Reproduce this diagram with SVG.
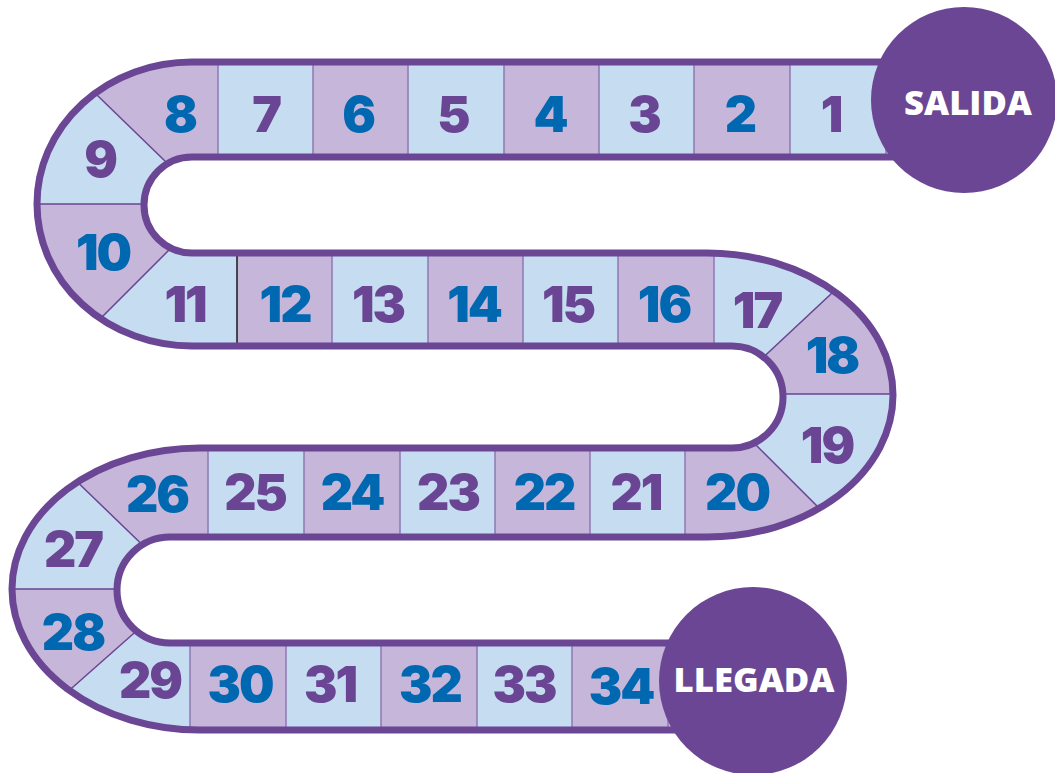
<svg xmlns="http://www.w3.org/2000/svg" width="1055" height="773" viewBox="0 0 1055 773">
<defs>
<clipPath id="band"><path d="M 900,62 L 192,62 A 155 142 0 0 0 192,346 L 732,346 A 51 51 0 0 1 732,448 L 200,448 A 188 141 0 0 0 200,730 L 700,730 L 700,643 L 170,643 A 53 53 0 0 1 170,537 L 707,537 A 186 142 0 0 0 707,253 L 192,253 A 48 48 0 0 1 192,157 L 900,157 Z"/></clipPath>
<style>
.lb{fill:#c6dcf0;clip-path:url(#band)}
.lp{fill:#c6b6d9;clip-path:url(#band)}
.n{font-family:Inter,Lato,"Liberation Sans",sans-serif;font-weight:900;font-size:50px;letter-spacing:-2px;text-anchor:middle}
.p{fill:#6a4593}
.b{fill:#0067b1}
.dv{stroke:#8e78b3;stroke-width:1.5;fill:none}
.dd{stroke:#6a4593;stroke-width:1.5;fill:none}
.border{fill:none;stroke:#6b4695;stroke-width:7;stroke-linejoin:round}
.circ{fill:#6b4695}
.lbl{font-family:"Open Sans","Liberation Sans",sans-serif;font-weight:800;font-size:33px;fill:#ffffff;text-anchor:middle}
</style>
</defs>
<rect width="1055" height="773" fill="#ffffff"/>

<g id="cells">
<g id="cell-1"><rect class="lb" x="790" y="50" width="110" height="120"/><text class="n p" x="831" y="132">1</text></g>
<g id="cell-2"><rect class="lp" x="694" y="50" width="96" height="120"/><text class="n b" x="740" y="132">2</text></g>
<g id="cell-3"><rect class="lb" x="599" y="50" width="95" height="120"/><text class="n p" x="644" y="132">3</text></g>
<g id="cell-4"><rect class="lp" x="504" y="50" width="95" height="120"/><text class="n b" x="550" y="132">4</text></g>
<g id="cell-5"><rect class="lb" x="408" y="50" width="96" height="120"/><text class="n p" x="453" y="132">5</text></g>
<g id="cell-6"><rect class="lp" x="313" y="50" width="95" height="120"/><text class="n b" x="358" y="132">6</text></g>
<g id="cell-7"><rect class="lb" x="218" y="50" width="95" height="120"/><text class="n p" x="266" y="132">7</text></g>
<g id="cell-8"><polygon class="lp" points="218,40 218,195 200,195 65,64"/><text class="n b" x="180" y="132">8</text></g>
<g id="cell-9"><polygon class="lb" points="65,64 200,195 200,204 0,204 0,64"/><text class="n p" x="100" y="177">9</text></g>
<g id="cell-10"><polygon class="lp" points="0,204 180,204 180,239 72,347 0,347"/><text class="n b" x="103" y="270">10</text></g>
<g id="cell-11"><polygon class="lb" points="180,239 72,347 72,360 237,360 237,239"/><text class="n p" x="185" y="322">11</text></g>
<g id="cell-12"><rect class="lp" x="237" y="240" width="95" height="120"/><text class="n b" x="285" y="322">12</text></g>
<g id="cell-13"><rect class="lb" x="332" y="240" width="96" height="120"/><text class="n p" x="378" y="322">13</text></g>
<g id="cell-14"><rect class="lp" x="428" y="240" width="95" height="120"/><text class="n b" x="474" y="322">14</text></g>
<g id="cell-15"><rect class="lb" x="523" y="240" width="95" height="120"/><text class="n p" x="568" y="322">15</text></g>
<g id="cell-16"><rect class="lp" x="618" y="240" width="96" height="120"/><text class="n b" x="664" y="322">16</text></g>
<g id="cell-17"><polygon class="lb" points="714,240 870,240 870,257.5 738,381 714,381"/><text class="n p" x="757" y="328">17</text></g>
<g id="cell-18"><polygon class="lp" points="738,381 870,257.5 950,257.5 950,394 738,394"/><text class="n b" x="832" y="373">18</text></g>
<g id="cell-19"><polygon class="lb" points="738,394 950,394 950,537 848,537 736,425"/><text class="n p" x="827" y="463">19</text></g>
<g id="cell-20"><polygon class="lp" points="685,400 736,425 848,537 848,600 685,600"/><text class="n b" x="737" y="510">20</text></g>
<g id="cell-21"><rect class="lb" x="590" y="430" width="95" height="120"/><text class="n p" x="636" y="510">21</text></g>
<g id="cell-22"><rect class="lp" x="495" y="430" width="95" height="120"/><text class="n b" x="544" y="510">22</text></g>
<g id="cell-23"><rect class="lb" x="400" y="430" width="95" height="120"/><text class="n p" x="448" y="510">23</text></g>
<g id="cell-24"><rect class="lp" x="304" y="430" width="96" height="120"/><text class="n b" x="352" y="510">24</text></g>
<g id="cell-25"><rect class="lb" x="208" y="430" width="96" height="120"/><text class="n p" x="255" y="510">25</text></g>
<g id="cell-26"><polygon class="lp" points="208,420 208,559 157,559 37,443 37,420"/><text class="n b" x="157" y="512">26</text></g>
<g id="cell-27"><polygon class="lb" points="37,443 157,559 160,589 0,589 0,443"/><text class="n p" x="73" y="567">27</text></g>
<g id="cell-28"><polygon class="lp" points="0,589 160,589 150,619 30,725 0,725"/><text class="n b" x="73" y="650">28</text></g>
<g id="cell-29"><polygon class="lb" points="150,619 30,725 30,750 190,750 190,619"/><text class="n p" x="150" y="698">29</text></g>
<g id="cell-30"><rect class="lp" x="190" y="630" width="96" height="115"/><text class="n b" x="240" y="702">30</text></g>
<g id="cell-31"><rect class="lb" x="286" y="630" width="95" height="115"/><text class="n p" x="330" y="702">31</text></g>
<g id="cell-32"><rect class="lp" x="381" y="630" width="96" height="115"/><text class="n b" x="430" y="702">32</text></g>
<g id="cell-33"><rect class="lb" x="477" y="630" width="95" height="115"/><text class="n p" x="524" y="702">33</text></g>
<g id="cell-34"><rect class="lp" x="572" y="630" width="128" height="115"/><text class="n b" x="621" y="704">34</text></g>
</g>

<g id="connectors" clip-path="url(#band)">
<path class="dv" d="M218,62V157 M313,62V157 M408,62V157 M504,62V157 M599,62V157 M694,62V157 M790,62V157 M886,62V157"/>
<path class="dv" d="M332,253V346 M428,253V346 M523,253V346 M618,253V346 M714,253V346"/>
<path stroke="#1a1a1a" stroke-width="1.5" d="M237,253V346"/>
<path class="dv" d="M208,448V537 M304,448V537 M400,448V537 M495,448V537 M590,448V537 M685,448V537"/>
<path class="dv" d="M190,643V730 M286,643V730 M381,643V730 M477,643V730 M572,643V730 M668,643V730"/>
<path class="dd" d="M65,64L200,195 M0,204H180 M180,239L72,347 M870,257.5L738,381 M738,394H950 M736,425L848,537 M37,443L157,559 M0,589H160 M150,619L30,725"/>
</g>

<path class="border" d="M 900,62 L 192,62 A 155 142 0 0 0 192,346 L 732,346 A 51 51 0 0 1 732,448 L 200,448 A 188 141 0 0 0 200,730 L 700,730 M 700,643 L 170,643 A 53 53 0 0 1 170,537 L 707,537 A 186 142 0 0 0 707,253 L 192,253 A 48 48 0 0 1 192,157 L 900,157"/>

<g id="salida"><circle class="circ" cx="964" cy="100" r="93"/><text class="lbl" x="968" y="115" textLength="128" lengthAdjust="spacingAndGlyphs">SALIDA</text></g>
<g id="llegada"><circle class="circ" cx="753" cy="681" r="94"/><text class="lbl" x="754" y="692" textLength="161" lengthAdjust="spacingAndGlyphs">LLEGADA</text></g>
</svg>
